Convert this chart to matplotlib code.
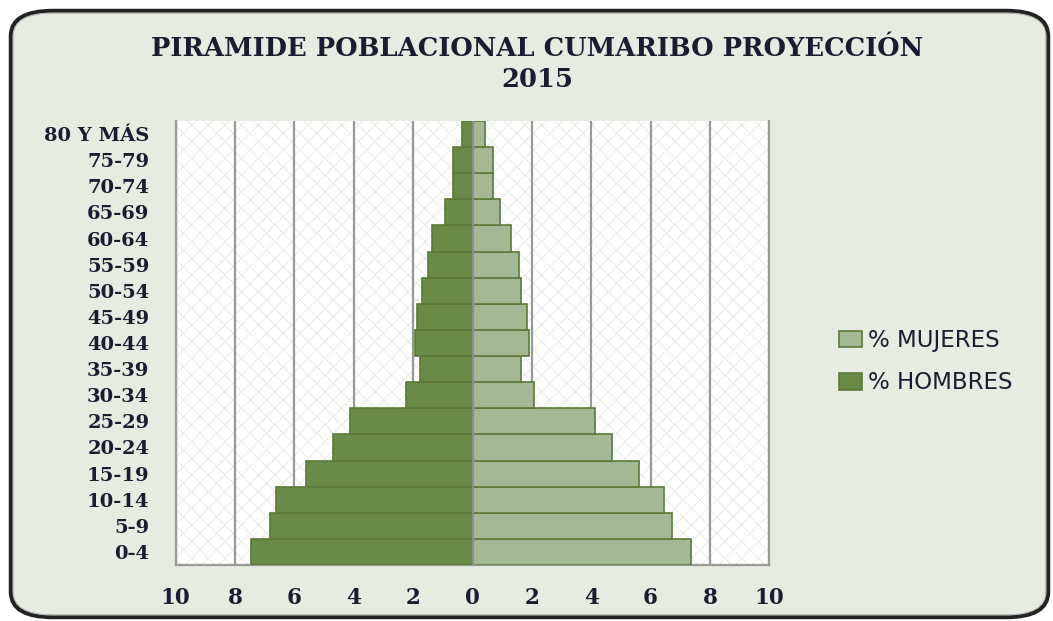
import matplotlib.pyplot as plt
from matplotlib.patches import FancyBboxPatch, Rectangle

edades = ['0-4', '5-9', '10-14', '15-19', '20-24', '25-29', '30-34', '35-39',
          '40-44', '45-49', '50-54', '55-59', '60-64', '65-69', '70-74',
          '75-79', '80 Y MÁS']
hombres = [7.46, 6.82, 6.62, 5.62, 4.70, 4.13, 2.24, 1.78,
           1.94, 1.87, 1.71, 1.49, 1.36, 0.93, 0.65, 0.65, 0.37]
mujeres = [7.37, 6.73, 6.46, 5.61, 4.69, 4.12, 2.06, 1.64,
           1.91, 1.84, 1.64, 1.56, 1.28, 0.92, 0.69, 0.69, 0.42]
ticks_x = [-10, -8, -6, -4, -2, 0, 2, 4, 6, 8, 10]

fondo = '#E6ECE1'
col_h = '#6A8A48'
col_m = '#A4B895'
borde = '#5B7A3A'
texto = '#1C1C30'
serif = ['DejaVu Serif']

plt.rcParams['hatch.linewidth'] = 0.7
fig = plt.figure(figsize=(10.53, 6.21), dpi=100)
fig.patch.set_facecolor('white')

# marco redondeado doble
marco = FancyBboxPatch((11 / 1053, 4 / 621), 1037 / 1053, 606 / 621,
                       boxstyle='round,pad=0,rounding_size=0.04',
                       transform=fig.transFigure, facecolor=fondo,
                       edgecolor='#222222', linewidth=3.2, zorder=-2)
fig.patches.append(marco)
marco2 = FancyBboxPatch((13 / 1053, 6 / 621), 1033 / 1053, 602 / 621,
                        boxstyle='round,pad=0,rounding_size=0.038',
                        transform=fig.transFigure, facecolor='none',
                        edgecolor='#BBBBBB', linewidth=0.8, zorder=-1)
fig.patches.append(marco2)

ax = fig.add_axes([0.1669, 0.0902, 0.5637, 0.715])
ax.set_zorder(2)
ax.set_facecolor('white')
ax.add_patch(Rectangle((0, 0), 1, 1, transform=ax.transAxes, facecolor='white',
                       hatch='xx', edgecolor='#E8ECE2', linewidth=0, zorder=0))

y = range(len(edades))
ax.barh(y, mujeres, height=1.0, color=col_m, edgecolor=borde, linewidth=1.2,
        label='% MUJERES', zorder=3)
ax.barh(y, [-v for v in hombres], height=1.0, color=col_h, edgecolor=borde,
        linewidth=1.2, label='% HOMBRES', zorder=3)

ax.set_xlim(-10, 10)
ax.set_ylim(-0.5, len(edades) - 0.5)
ax.set_xticks(ticks_x)
ax.set_xticklabels([str(abs(t)) for t in ticks_x], fontfamily=serif,
                   fontweight='bold', fontsize=15.5, color=texto)
ax.set_yticks(list(y))
ax.set_yticklabels(edades, fontfamily=serif, fontweight='bold', fontsize=14,
                   color=texto)
ax.tick_params(length=0)
ax.tick_params(axis='x', pad=16)
ax.tick_params(axis='y', pad=19)

ax.grid(axis='x', color='#999999', linewidth=1.6, zorder=1)
ax.axvline(0, color='#8C8C8C', linewidth=1.6, zorder=4)
ax.spines['top'].set_visible(False)
for s in ['left', 'bottom', 'right']:
    ax.spines[s].set_color('#9A9A9A')
    ax.spines[s].set_linewidth(1.6)

fig.text(0.51, 0.922, 'PIRAMIDE POBLACIONAL CUMARIBO PROYECCIÓN', ha='center',
         va='center', fontfamily=serif, fontweight='bold', fontsize=18.5,
         color=texto)
fig.text(0.51, 0.872, '2015', ha='center', va='center', fontfamily=serif,
         fontweight='bold', fontsize=18.5, color=texto)

leg = ax.legend(loc='center left', bbox_to_anchor=(1.083, 0.458), frameon=False,
                prop={'family': 'DejaVu Sans', 'size': 16.5}, labelcolor=texto,
                handlelength=1.0, handleheight=0.75, handletextpad=0.25,
                labelspacing=0.85)

plt.savefig('out.png', dpi=100, facecolor=fig.get_facecolor())
